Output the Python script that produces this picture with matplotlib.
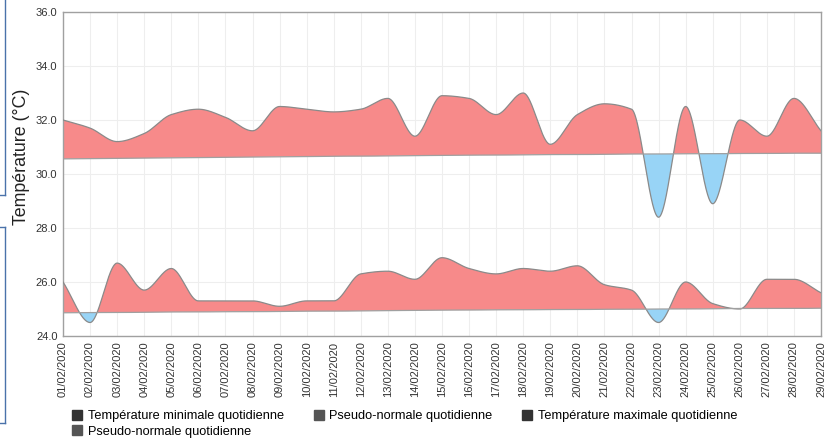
import numpy as np
import pandas as pd
import matplotlib
matplotlib.use('Agg')
import matplotlib.pyplot as plt
from matplotlib.lines import Line2D

plt.rcParams['font.family'] = ['Liberation Sans', 'DejaVu Sans']

# dates of February 2020 (x axis labels)
dates = pd.date_range('2020-02-01', '2020-02-29').strftime('%d/%m/%Y').tolist()

# daily maximum temperature and its pseudo-normal
tmax = [32.0, 31.7, 31.2, 31.5, 32.2, 32.4, 32.1, 31.6, 32.5, 32.4, 32.3, 32.4, 32.8, 31.4, 32.9,
        32.8, 32.2, 33.0, 31.1, 32.2, 32.6, 32.4, 28.4, 32.5, 28.9, 32.0, 31.4, 32.8, 31.6]
nmax = [30.56, 30.57, 30.58, 30.59, 30.60, 30.61, 30.62, 30.63, 30.64, 30.65, 30.66, 30.66, 30.67, 30.68, 30.69,
        30.70, 30.70, 30.71, 30.72, 30.72, 30.73, 30.74, 30.74, 30.75, 30.75, 30.76, 30.76, 30.77, 30.77]

# daily minimum temperature and its pseudo-normal
tmin = [26.0, 24.5, 26.7, 25.7, 26.5, 25.3, 25.3, 25.3, 25.1, 25.3, 25.3, 26.3, 26.4, 26.1, 26.9,
        26.5, 26.3, 26.5, 26.4, 26.6, 25.9, 25.7, 24.5, 26.0, 25.2, 25.0, 26.1, 26.1, 25.6]
nmin = [24.86, 24.87, 24.87, 24.88, 24.89, 24.89, 24.90, 24.90, 24.91, 24.92, 24.92, 24.93, 24.94, 24.95, 24.96,
        24.96, 24.97, 24.97, 24.98, 24.98, 24.99, 24.99, 25.00, 25.00, 25.01, 25.02, 25.02, 25.02, 25.03]

legend_labels = ['Température minimale quotidienne', 'Pseudo-normale quotidienne',
                 'Température maximale quotidienne', 'Pseudo-normale quotidienne']

RED = '#f78a8a'
BLUE = '#98d4f6'
EDGE = '#8a8a8a'


# monotone cubic (Fritsch-Carlson) smoothing, used only to draw the spline shape
def smooth(x, y, xs):
    x = np.asarray(x, float)
    y = np.asarray(y, float)
    h = np.diff(x)
    d = np.diff(y) / h
    n = len(x)
    m = np.zeros(n)
    m[0] = d[0]
    m[-1] = d[-1]
    for k in range(1, n - 1):
        if d[k - 1] * d[k] <= 0:
            m[k] = 0
        else:
            w1 = 2 * h[k] + h[k - 1]
            w2 = h[k] + 2 * h[k - 1]
            m[k] = (w1 + w2) / (w1 / d[k - 1] + w2 / d[k])
    idx = np.clip(np.searchsorted(x, xs) - 1, 0, n - 2)
    t = (xs - x[idx]) / h[idx]
    h00 = 2 * t**3 - 3 * t**2 + 1
    h10 = t**3 - 2 * t**2 + t
    h01 = -2 * t**3 + 3 * t**2
    h11 = t**3 - t**2
    return h00 * y[idx] + h10 * h[idx] * m[idx] + h01 * y[idx + 1] + h11 * h[idx] * m[idx + 1]


fig = plt.figure(figsize=(8.25, 4.38), dpi=100)
ax = fig.add_axes([63 / 825, 1 - 336 / 438, (821 - 63) / 825, (336 - 12) / 438])

x = np.arange(len(dates))
xs = np.linspace(0, len(dates) - 1, 3000)

for temp, norm in [(tmax, nmax), (tmin, nmin)]:
    cs = smooth(x, temp, xs)
    ns = smooth(x, norm, xs)
    ax.fill_between(xs, cs, ns, where=cs >= ns, interpolate=True, color=RED, linewidth=0, zorder=2)
    ax.fill_between(xs, cs, ns, where=cs < ns, interpolate=True, color=BLUE, linewidth=0, zorder=2)
    ax.plot(xs, cs, color=EDGE, linewidth=0.9, zorder=3)
    ax.plot(xs, ns, color='#a0a0a0', linewidth=0.9, zorder=3)

ax.set_xlim(0, len(dates) - 1)
ax.set_ylim(24, 36)
ax.set_yticks(np.arange(24, 36.1, 2))
ax.set_yticklabels(['%.1f' % v for v in np.arange(24, 36.1, 2)])
ax.set_xticks(x)
ax.set_xticklabels(dates, rotation=90, family=['Liberation Sans Narrow', 'Liberation Sans'])
ax.tick_params(length=0, labelsize=8, colors='#333333', pad=4)
ax.grid(True, color='#eeeeee', linewidth=0.8, zorder=0)
ax.set_axisbelow(True)
for s in ax.spines.values():
    s.set_color('#a0a0a0')
    s.set_linewidth(1)
ax.set_ylabel('Température (°C)', fontsize=12.8, color='#222222')
ax.yaxis.set_label_coords(-0.043, 0.552)

# legend: square markers, row-wise order
handles = [Line2D([], [], marker='s', linestyle='none', markersize=7, color=c)
           for c in ['#333333', '#555555', '#333333', '#555555']]
order = [0, 3, 1, 2]
fig.legend([handles[i] for i in order], [legend_labels[i] for i in order],
           ncol=3, loc='upper left', bbox_to_anchor=(72 / 825, 1 - 410 / 438),
           frameon=False, fontsize=9.2, handletextpad=0.45, columnspacing=2.3,
           labelspacing=0.3, handlelength=0.8, borderaxespad=0, borderpad=0)

# side panel borders at the left edge of the screenshot
for y0, y1 in [(0, 195), (227, 423)]:
    fig.add_artist(Line2D([5 / 825, 5 / 825], [1 - y0 / 438, 1 - y1 / 438],
                          color='#4a72aa', linewidth=1, transform=fig.transFigure))
for yy in [195, 227, 423]:
    fig.add_artist(Line2D([0, 5 / 825], [1 - yy / 438, 1 - yy / 438],
                          color='#4a72aa', linewidth=1, transform=fig.transFigure))

fig.savefig('out.png', dpi=100)
